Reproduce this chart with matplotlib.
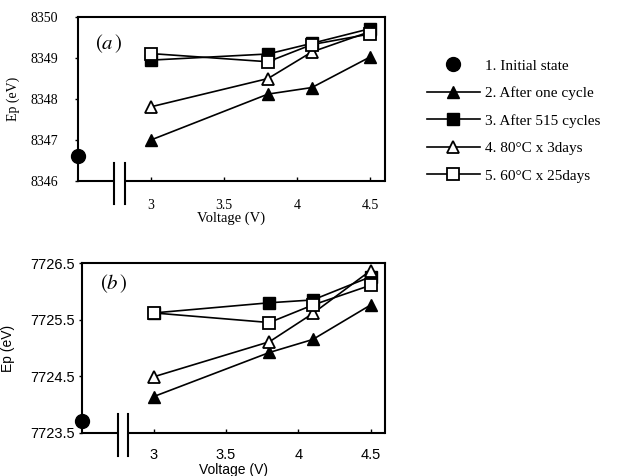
import matplotlib
matplotlib.use('Agg')
import matplotlib.pyplot as plt
import matplotlib.transforms as mtransforms

voltage = [3.0, 3.8, 4.1, 4.5]
initial_v = 2.5

# panel (a)
a_initial = 8346.6
a_one_cycle = [8347.0, 8348.12, 8348.28, 8349.03]
a_515 = [8348.95, 8349.10, 8349.36, 8349.72]
a_80c = [8347.81, 8348.50, 8349.15, 8349.65]
a_60c = [8349.11, 8348.91, 8349.33, 8349.59]

# panel (b)
b_initial = 7723.71
b_one_cycle = [7724.14, 7724.92, 7725.15, 7725.76]
b_515 = [7725.62, 7725.80, 7725.85, 7726.26]
b_80c = [7724.49, 7725.11, 7725.61, 7726.37]
b_60c = [7725.62, 7725.45, 7725.76, 7726.11]

labels = ['1. Initial state', '2. After one cycle', '3. After 515 cycles',
          '4. 80°C x 3days', '5. 60°C x 25days']
xticks = [3, 3.5, 4, 4.5]
xticklabels = ['3', '3.5', '4', '4.5']

plt.rcParams['mathtext.fontset'] = 'stix'

fig = plt.figure(figsize=(6.18, 4.76), dpi=100)
ax1 = fig.add_axes([0.126, 0.620, 0.497, 0.344])
ax2 = fig.add_axes([0.132, 0.091, 0.491, 0.356])


def draw(ax, init, one, c515, c80, c60, pad):
    lw = 1.2
    ms = 8.5
    h = []
    h += ax.plot([initial_v], [init], 'o', color='black', ms=10, clip_on=False, zorder=5)
    h += ax.plot(voltage, one, '-^', color='black', mfc='black', ms=ms, lw=lw)
    h += ax.plot(voltage, c515, '-s', color='black', mfc='black', ms=ms, lw=lw)
    h += ax.plot(voltage, c80, '-^', color='black', mfc='white', ms=ms, lw=lw, mew=1.3)
    h += ax.plot(voltage, c60, '-s', color='black', mfc='white', ms=ms, lw=lw, mew=1.3)
    ax.set_xlim(2.5, 4.6)
    for s in ['top', 'right', 'left']:
        ax.spines[s].set_linewidth(1.5)
    ax.spines['bottom'].set_visible(False)
    tr = mtransforms.blended_transform_factory(ax.transData, ax.transAxes)
    # broken x axis
    ax.plot([2.5, 2.75], [0, 0], color='black', lw=1.5, transform=tr, clip_on=False,
            solid_capstyle='butt')
    ax.plot([2.82, 4.6], [0, 0], color='black', lw=1.5, transform=tr, clip_on=False,
            solid_capstyle='butt')
    for xb in [2.75, 2.82]:
        ax.plot([xb, xb], [-0.14, 0.11], color='black', lw=1.5, transform=tr, clip_on=False)
    ax.set_xticks(xticks)
    ax.set_xticklabels(xticklabels)
    ax.tick_params(axis='x', direction='in', length=3, width=1, pad=pad)
    ax.tick_params(axis='y', direction='out', length=2, width=1)
    return h


handles = draw(ax1, a_initial, a_one_cycle, a_515, a_80c, a_60c, 13)
draw(ax2, b_initial, b_one_cycle, b_515, b_80c, b_60c, 11)

serif = 'Liberation Serif'
sans = 'Liberation Sans'

ax1.set_ylim(8346, 8350)
ax1.set_yticks([8346, 8347, 8348, 8349, 8350])
ax1.tick_params(axis='y', pad=12)
for t in ax1.get_xticklabels() + ax1.get_yticklabels():
    t.set_fontfamily(serif)
    t.set_fontsize(10)
ax1.set_xlabel('Voltage (V)', family=serif, fontsize=10.5)
ax1.xaxis.set_label_coords(0.5, -0.19)
ax1.set_ylabel('Ep (eV)', family=serif, fontsize=10)
ax1.yaxis.set_label_coords(-0.19, 0.5)
ax1.text(0.055, 0.84, r'$(a\,)$', transform=ax1.transAxes, fontsize=15, va='center')

ax2.set_ylim(7723.5, 7726.5)
ax2.set_yticks([7723.5, 7724.5, 7725.5, 7726.5])
ax2.tick_params(axis='y', pad=3)
for t in ax2.get_xticklabels() + ax2.get_yticklabels():
    t.set_fontfamily(sans)
    t.set_fontsize(10.5)
ax2.set_xlabel('Voltage (V)', family=sans, fontsize=10)
ax2.xaxis.set_label_coords(0.5, -0.18)
ax2.set_ylabel('Ep (eV)', family=sans, fontsize=10)
ax2.yaxis.set_label_coords(-0.22, 0.5)
ax2.text(0.06, 0.88, r'$(b\,)$', transform=ax2.transAxes, fontsize=15, va='center')

fig.legend(handles, labels, loc='upper left', bbox_to_anchor=(0.668, 0.905),
           frameon=False, prop={'family': serif, 'size': 11}, numpoints=1,
           handlelength=3.5, handletextpad=0.3, labelspacing=0.9)

fig.savefig('out.png', dpi=100)
